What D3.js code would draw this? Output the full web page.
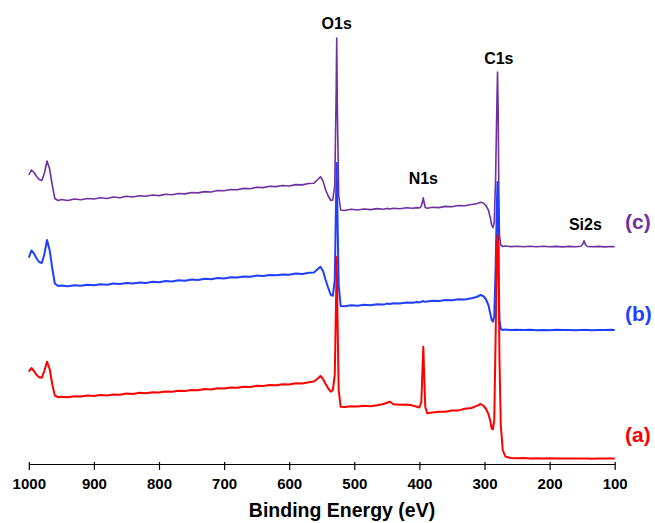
<!DOCTYPE html>
<html>
<head>
<meta charset="utf-8">
<script src="https://cdn.jsdelivr.net/npm/d3@7"></script>
<style>
  body { margin: 0; background: #fff; }
  svg { display: block; font-family: Arial, 'Liberation Sans', sans-serif; }
</style>
</head>
<body>
<svg id="canvas" width="655" height="523"></svg>
<script>
// binding energy (eV), shared by all three spectra
let energy = [1000, 996, 992, 988, 984, 980, 976, 972, 968, 964, 960, 955, 950, 940, 930, 920, 910, 900, 890, 880,
  870, 860, 850, 840, 830, 820, 810, 800, 790, 780, 770, 760, 750, 740, 730, 720, 710, 700, 690, 680,
  670, 660, 650, 640, 630, 620, 610, 600, 590, 580, 570, 562, 556, 552, 548, 544, 540, 536, 533, 530,
  528, 527, 526, 524, 521, 515, 505, 495, 485, 475, 465, 455, 450, 445, 440, 430, 420, 410, 404, 400,
  397, 395, 394, 393, 391, 388, 380, 370, 360, 350, 340, 330, 320, 312, 306, 302, 298, 294, 291, 289,
  287, 285, 283, 281, 280, 279, 278, 277, 275, 272, 268, 260, 250, 240, 230, 220, 210, 200, 190, 180,
  170, 160, 152, 149, 147, 145, 142, 135, 125, 115, 105, 100]

// intensity (a.u., stacked)
let spectrumC = [289, 294, 291.5, 287.5, 284.5, 283.5, 291, 303, 295, 279, 265.5, 263.5, 264.5, 263.5, 265, 264.2, 265.5, 265, 266.2, 265.5,
  267, 266.2, 267.7, 267, 268.2, 267.8, 269, 268.4, 269.8, 269.2, 270.5, 270.1, 271.5, 271.1, 272.4, 272, 273.5, 273.2, 274.5, 274.2,
  275.6, 275.2, 276.8, 276.4, 277.7, 277.4, 278.5, 278, 279.4, 279.1, 280.5, 280.8, 284.5, 287.3, 283, 274, 268, 263.5, 264, 279,
  364, 426, 354, 269, 254, 253.5, 254.7, 254, 255, 254.4, 255.4, 254.7, 255.6, 255, 255.8, 255.2, 256.2, 255.7, 256.4, 256,
  258, 263, 266.3, 262, 256.5, 255.8, 256.7, 256.4, 257.6, 257.2, 258.5, 258.2, 259.5, 260.2, 261.7, 261, 258.5, 254, 246, 239,
  236.5, 242, 284, 359, 392, 354, 274, 229, 219, 217.5, 218, 217.4, 217.8, 217.2, 217.7, 217.3, 217.8, 217.2, 217.6, 217.1,
  217.6, 217.2, 217.7, 220, 223.3, 219.5, 217.5, 217.2, 217.6, 217.1, 217.5, 217.3]

let spectrumB = [206.3, 213.5, 210.5, 205.5, 202, 201, 210, 224, 214, 196, 180.5, 178, 178.5, 177.7, 178.8, 178.2, 179.3, 178.7, 179.8, 179.2,
  180.4, 179.9, 181, 180.4, 181.6, 181.1, 182.2, 181.7, 183, 182.5, 183.7, 183.2, 184.4, 184, 185.2, 184.8, 186, 185.6, 186.8, 186.4,
  187.6, 187.2, 188.4, 188, 189, 188.7, 189.6, 189.2, 190.4, 190.1, 191.2, 191.5, 195, 197.3, 193, 184, 176, 169, 168.3, 184,
  264, 301, 254, 179, 158, 157.8, 158.7, 158.2, 159.2, 158.8, 159.8, 159.4, 160.4, 160, 160.8, 160.5, 161.5, 161.2, 162, 161.6,
  162.2, 162.7, 163, 162.6, 162.2, 162.5, 163.2, 162.9, 164, 163.7, 164.8, 164.6, 165.8, 167, 169, 168, 165, 159, 150, 144,
  142.3, 148, 194, 259, 282, 254, 184, 144, 135, 134, 134.4, 134, 134.3, 133.9, 134.2, 133.8, 134.1, 133.8, 134.2, 133.9,
  134.1, 133.8, 134.1, 133.9, 134.2, 133.9, 134.1, 133.8, 134.1, 133.9, 134.2, 134]

let spectrumA = [92.3, 96, 93, 89, 86.8, 86.3, 93.5, 102.3, 95, 80, 68.5, 66.8, 67.2, 66.7, 67.8, 67.4, 68.4, 68, 69, 68.6,
  69.6, 69.2, 70.4, 70, 71.2, 70.8, 71.8, 71.5, 72.6, 72.2, 73.3, 73, 74.1, 73.8, 75, 74.6, 75.7, 75.4, 76.6, 76.2,
  77.3, 77, 78.2, 77.9, 79, 78.7, 79.8, 79.5, 80.8, 80.5, 81.8, 82.5, 85.5, 88, 85, 80, 75.5, 72.3, 74, 89,
  164, 207, 154, 74, 57.3, 57, 57.8, 57.4, 58.2, 57.8, 58.8, 60, 61.3, 62.3, 59.7, 59.2, 59.6, 58.4, 57.3, 56.5,
  62, 99, 117.3, 96, 57, 50.7, 51.4, 52.3, 52.2, 53.5, 53.6, 55.2, 56, 58.2, 60, 58.5, 55.5, 50, 43, 35.5,
  34.7, 44, 124, 214, 229, 219, 174, 104, 39, 14, 7.5, 6, 5.7, 5.9, 5.6, 5.8, 5.5, 5.7, 5.5, 5.6,
  5.4, 5.6, 5.5, 5.4, 5.6, 5.4, 5.5, 5.3, 5.5, 5.4, 5.4, 5.4]

let tickValues = [1000, 900, 800, 700, 600, 500, 400, 300, 200, 100]

let series = [
  { name: '(c)', values: spectrumC, color: '#7030a0', width: 1.6, labelY: 229 },
  { name: '(b)', values: spectrumB, color: '#1f3fff', width: 2, labelY: 321 },
  { name: '(a)', values: spectrumA, color: '#ff0000', width: 2, labelY: 442 }
]

let peaks = [
  { label: 'O1s', e: 527, y: 29 },
  { label: 'C1s', e: 278, y: 64 },
  { label: 'N1s', e: 394, y: 184 },
  { label: 'Si2s', e: 145, y: 230 }
]

let canvas = d3.select('#canvas')

let x = d3.scaleLinear().domain([1000, 100]).range([28.8, 614.7])
let y = d3.scaleLinear().domain([0, 440]).range([464, 24])

let line = d3.line()
  .x((d) => x(d.e))
  .y((d) => y(d.v))

series.forEach((s) => {
  let rows = energy.map((e, i) => ({ e: e, v: s.values[i] }))
  canvas.append('path')
    .datum(rows)
    .attr('fill', 'none')
    .attr('stroke', s.color)
    .attr('stroke-width', s.width)
    .attr('stroke-linejoin', 'round')
    .attr('d', line)

  canvas.append('text')
    .attr('x', 625)
    .attr('y', s.labelY)
    .attr('fill', s.color)
    .attr('font-size', 21)
    .attr('font-weight', 'bold')
    .text(s.name)
})

canvas.selectAll('.peak')
  .data(peaks)
  .enter()
  .append('text')
  .attr('class', 'peak')
  .attr('x', (d) => x(d.e))
  .attr('y', (d) => d.y)
  .attr('text-anchor', 'middle')
  .attr('font-size', 16)
  .attr('font-weight', 'bold')
  .text((d) => d.label)

let xAxis = d3.axisBottom(x)
  .tickValues(tickValues)
  .tickFormat(d3.format('d'))
  .tickSizeInner(6)
  .tickSizeOuter(0)
  .tickPadding(8)

let axisG = canvas.append('g')
  .attr('transform', 'translate(0, 464)')
  .call(xAxis)

axisG.select('.domain').attr('stroke', '#000').attr('stroke-width', 1.2)
axisG.selectAll('.tick line').attr('y1', -2).attr('stroke', '#000').attr('stroke-width', 1.2)
axisG.selectAll('.tick text')
  .attr('font-size', 15)
  .attr('font-weight', 'bold')
  .attr('font-family', 'Arial, Liberation Sans, sans-serif')
  .attr('fill', '#000')

canvas.append('text')
  .attr('x', 342)
  .attr('y', 517)
  .attr('text-anchor', 'middle')
  .attr('font-size', 19.5)
  .attr('font-weight', 'bold')
  .text('Binding Energy (eV)')
</script>
</body>
</html>
